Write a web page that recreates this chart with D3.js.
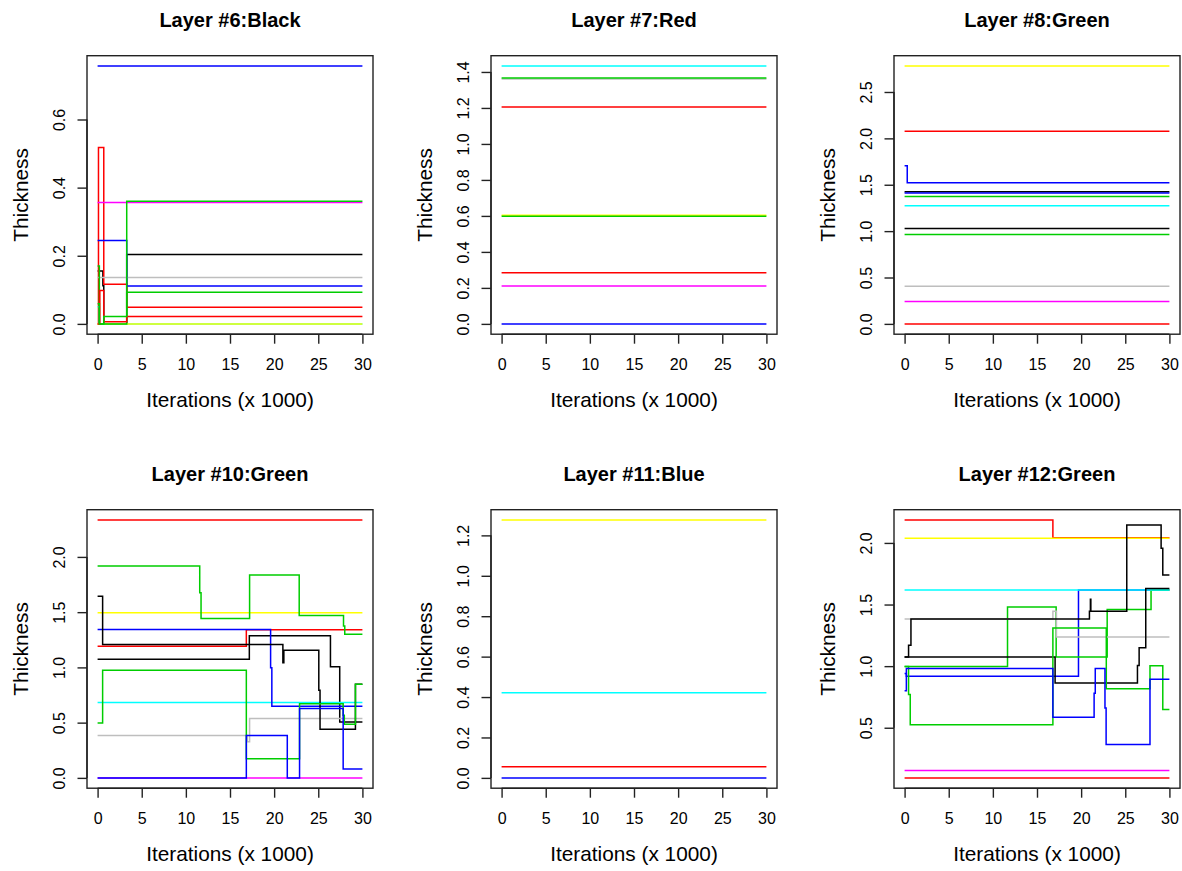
<!DOCTYPE html>
<html><head><meta charset="utf-8">
<script src="https://cdn.jsdelivr.net/npm/d3@7"></script>
<style>
body{margin:0;background:#fff}
svg{display:block}
text{font-family:"Liberation Sans",Arial,Helvetica,sans-serif;fill:#000}
</style>
</head><body>
<svg id="chart" width="1182" height="871"></svg>
<script>
// ---------------- data ----------------
const iterTicks = [0, 5, 10, 15, 20, 25, 30];
const iterEnd = 30;            // last iteration (x 1000)
const titles = ["Layer #6:Black", "Layer #7:Red", "Layer #8:Green",
                "Layer #10:Green", "Layer #11:Blue", "Layer #12:Green"];
const xLabel = "Iterations (x 1000)";
const yLabel = "Thickness";

const yTicks6  = [0, 0.2, 0.4, 0.6];
const yTicks7  = [0, 0.2, 0.4, 0.6, 0.8, 1.0, 1.2, 1.4];
const yTicks8  = [0, 0.5, 1.0, 1.5, 2.0, 2.5];
const yTicks10 = [0, 0.5, 1.0, 1.5, 2.0];
const yTicks11 = [0, 0.2, 0.4, 0.6, 0.8, 1.0, 1.2];
const yTicks12 = [0.5, 1.0, 1.5, 2.0];

// each series: s = series colour name (R palette), x = change points, y = value from that point
const layer6 = [
  {s:"black",   x:[0, 0.6, 0.7, 3.3],        y:[0.155, 0.112, 0.0, 0.204]},
  {s:"red",     x:[0, 0.1, 0.7, 3.3],        y:[0.0, 0.518, 0.116, 0.049]},
  {s:"cyan",    x:[0, 0.2],                  y:[0.05, 0.0]},
  {s:"magenta", x:[0],                       y:[0.356]},
  {s:"yellow",  x:[0],                       y:[0.0]},
  {s:"gray",    x:[0],                       y:[0.136]},
  {s:"blue",    x:[0],                       y:[0.757]},
  {s:"blue",    x:[0, 3.3],                  y:[0.245, 0.111]},
  {s:"green",   x:[0, 0.2, 3.3],             y:[0.17, 0.0, 0.36]},
  {s:"red",     x:[0, 0.25, 0.7, 3.3],       y:[0.0, 0.098, 0.006, 0.022]},
  {s:"green",   x:[0, 0.2, 0.7, 3.3],        y:[0.059, 0.0, 0.022, 0.093]}
];
const layer7 = [
  {s:"gray",    x:[0], y:[1.361]},
  {s:"cyan",    x:[0], y:[1.433]},
  {s:"green",   x:[0], y:[1.366]},
  {s:"red",     x:[0], y:[1.205]},
  {s:"yellow",  x:[0], y:[0.604]},
  {s:"green",   x:[0], y:[0.598]},
  {s:"red",     x:[0], y:[0.284]},
  {s:"magenta", x:[0], y:[0.21]},
  {s:"blue",    x:[0], y:[0.0]}
];
const layer8 = [
  {s:"yellow",  x:[0],      y:[2.78]},
  {s:"red",     x:[0],      y:[2.078]},
  {s:"blue",    x:[0, 0.3], y:[1.706, 1.522]},
  {s:"black",   x:[0],      y:[1.424]},
  {s:"blue",    x:[0],      y:[1.410]},
  {s:"green",   x:[0],      y:[1.374]},
  {s:"cyan",    x:[0],      y:[1.273]},
  {s:"black",   x:[0],      y:[1.028]},
  {s:"green",   x:[0],      y:[0.963]},
  {s:"gray",    x:[0],      y:[0.407]},
  {s:"magenta", x:[0],      y:[0.241]},
  {s:"red",     x:[0],      y:[0.0]}
];
const layer10 = [
  {s:"black",   x:[0, 17.19, 26.38, 27.43],                     y:[1.074, 1.286, 1.005, 0.506]},
  {s:"red",     x:[0],                                          y:[2.334]},
  {s:"cyan",    x:[0],                                          y:[0.683]},
  {s:"yellow",  x:[0],                                          y:[1.494]},
  {s:"gray",    x:[0, 16.95, 17.22],                            y:[0.383, 0.326, 0.537]},
  {s:"magenta", x:[0],                                          y:[0.0]},
  {s:"red",     x:[0, 16.85],                                   y:[1.192, 1.34]},
  {s:"blue",    x:[0, 19.6, 19.74],                             y:[1.343, 0.996, 0.648]},
  {s:"black",   x:[0, 0.57, 20.99, 21.1, 25.06, 25.2, 29.21],   y:[1.645, 1.208, 1.041, 1.156, 0.793, 0.44, 0.848]},
  {s:"green",   x:[0, 11.57, 11.72, 17.22, 22.84, 27.86, 28.0], y:[1.917, 1.676, 1.443, 1.836, 1.470, 1.374, 1.301]},
  {s:"green",   x:[0, 0.57, 16.85, 22.88, 27.82, 27.95, 29.21], y:[0.497, 0.975, 0.174, 0.672, 0.568, 0.485, 0.848]},
  {s:"blue",    x:[0, 16.85, 21.49, 22.88, 27.82],              y:[0.0, 0.383, 0.0, 0.627, 0.08]}
];
const layer11 = [
  {s:"yellow", x:[0], y:[1.276]},
  {s:"cyan",   x:[0], y:[0.421]},
  {s:"red",    x:[0], y:[0.0545]},
  {s:"blue",   x:[0], y:[0.0]}
];
const layer12 = [
  {s:"blue",    x:[0, 0.2, 19.7],                     y:[0.94, 0.917, 1.617]},
  {s:"green",   x:[0, 11.66, 17.17, 22.95, 27.92],    y:[0.998, 1.481, 1.074, 1.46, 1.617]},
  {s:"cyan",    x:[0],                                y:[1.617]},
  {s:"red",     x:[0, 16.8],                          y:[2.186, 2.042]},
  {s:"yellow",  x:[0],                                y:[2.037]},
  {s:"magenta", x:[0],                                y:[0.152]},
  {s:"red",     x:[0],                                y:[0.093]},
  {s:"gray",    x:[0, 16.8, 17.2],                    y:[1.383, 1.446, 1.237]},
  {s:"black",   x:[0, 17.05, 26.38, 26.57, 27.32],    y:[1.074, 0.863, 1.006, 1.15, 1.63]},
  {s:"black",   x:[0, 0.45, 0.72, 20.94, 21.05, 21.1, 25.17, 29.06, 29.25], y:[1.074, 1.17, 1.383, 1.446, 1.543, 1.446, 2.146, 1.956, 1.739]},
  {s:"green",   x:[0, 0.45, 0.64, 16.8, 22.85, 27.8, 29.25], y:[0.998, 0.77, 0.524, 1.31, 0.817, 1.004, 0.649]},
  {s:"blue",    x:[0, 0.2, 16.8, 21.47, 21.6, 22.7, 22.83, 27.8], y:[0.80, 0.98, 0.586, 0.78, 0.98, 0.66, 0.364, 0.893]}
];

const panelsData = [layer6, layer7, layer8, layer10, layer11, layer12];
const panelsTicks = [yTicks6, yTicks7, yTicks8, yTicks10, yTicks11, yTicks12];

// ---------------- styles / layout ----------------
const palette = {black:"#000000", red:"#FF0000", green:"#00CD00", blue:"#0000FF",
                 cyan:"#00FFFF", magenta:"#FF00FF", yellow:"#FFFF00", gray:"#BEBEBE"};
const boxLefts = [87, 491, 894];
const boxTops = [55.7, 509.7];
const boxW = 286, boxH = 278.5;

const svg = d3.select("#chart");

function fmt(v) { return d3.format(".1f")(v); }

panelsData.forEach((series, i) => {
  const col = i % 3, row = Math.floor(i / 3);
  const L = boxLefts[col], T = boxTops[row];
  const g = svg.append("g");

  const allY = series.flatMap(d => d.y);
  const yMin = d3.min(allY), yMax = d3.max(allY);
  const pad = (yMax - yMin) * 0.04;
  const x = d3.scaleLinear().domain([-1.2, iterEnd + 1.2]).range([L, L + boxW]);
  const y = d3.scaleLinear().domain([yMin - pad, yMax + pad]).range([T + boxH, T]);

  const line = d3.line().x(p => x(p[0])).y(p => y(p[1])).curve(d3.curveStepAfter);

  series.forEach(d => {
    const pts = d.x.map((xv, k) => [xv, d.y[k]]);
    pts.push([iterEnd, d.y[d.y.length - 1]]);
    g.append("path").attr("d", line(pts))
      .attr("fill", "none").attr("stroke", palette[d.s])
      .attr("stroke-width", 1.5).attr("stroke-linejoin", "miter").attr("stroke-linecap", "butt");
  });

  // box
  g.append("rect").attr("x", L).attr("y", T).attr("width", boxW).attr("height", boxH)
    .attr("fill", "none").attr("stroke", "#222").attr("stroke-width", 1.4);

  // x axis
  const xAxis = d3.axisBottom(x).tickValues(iterTicks).tickSize(9.5).tickPadding(6).tickFormat(d3.format("d"));
  const gx = g.append("g").attr("transform", `translate(0,${T + boxH})`).call(xAxis);
  gx.select(".domain").attr("d", `M${x(iterTicks[0])},0H${x(iterTicks[iterTicks.length-1])}`)
    .attr("stroke", "#222").attr("stroke-width", 1.4);
  gx.selectAll(".tick line").attr("stroke", "#222").attr("stroke-width", 1.4);
  gx.selectAll(".tick text").attr("font-size", 16).attr("font-family", "Liberation Sans, Arial, sans-serif")
    .attr("fill", "#000").attr("y", 0).attr("dy", 0).attr("transform", "translate(0,36)");

  // y axis
  const ticks = panelsTicks[i];
  const yAxis = d3.axisLeft(y).tickValues(ticks).tickSize(9.5).tickFormat(fmt);
  const gy = g.append("g").attr("transform", `translate(${L},0)`).call(yAxis);
  gy.select(".domain").attr("d", `M0,${y(ticks[0])}V${y(ticks[ticks.length-1])}`)
    .attr("stroke", "#222").attr("stroke-width", 1.4);
  gy.selectAll(".tick line").attr("stroke", "#222").attr("stroke-width", 1.4);
  gy.selectAll(".tick text").attr("font-size", 16).attr("font-family", "Liberation Sans, Arial, sans-serif")
    .attr("fill", "#000").attr("x", 0).attr("dy", 0)
    .attr("text-anchor", "middle").attr("transform", "translate(-22,0) rotate(-90)");

  // titles
  g.append("text").attr("x", L + boxW / 2).attr("y", T - 29).attr("text-anchor", "middle")
    .attr("font-size", 20).attr("font-weight", "bold").text(titles[i]);
  g.append("text").attr("x", L + boxW / 2).attr("y", T + boxH + 73).attr("text-anchor", "middle")
    .attr("font-size", 20.8).text(xLabel);
  g.append("text").attr("transform", `translate(${L - 59},${T + boxH / 2}) rotate(-90)`)
    .attr("text-anchor", "middle").attr("font-size", 20.8).text(yLabel);
});
</script>
</body></html>
